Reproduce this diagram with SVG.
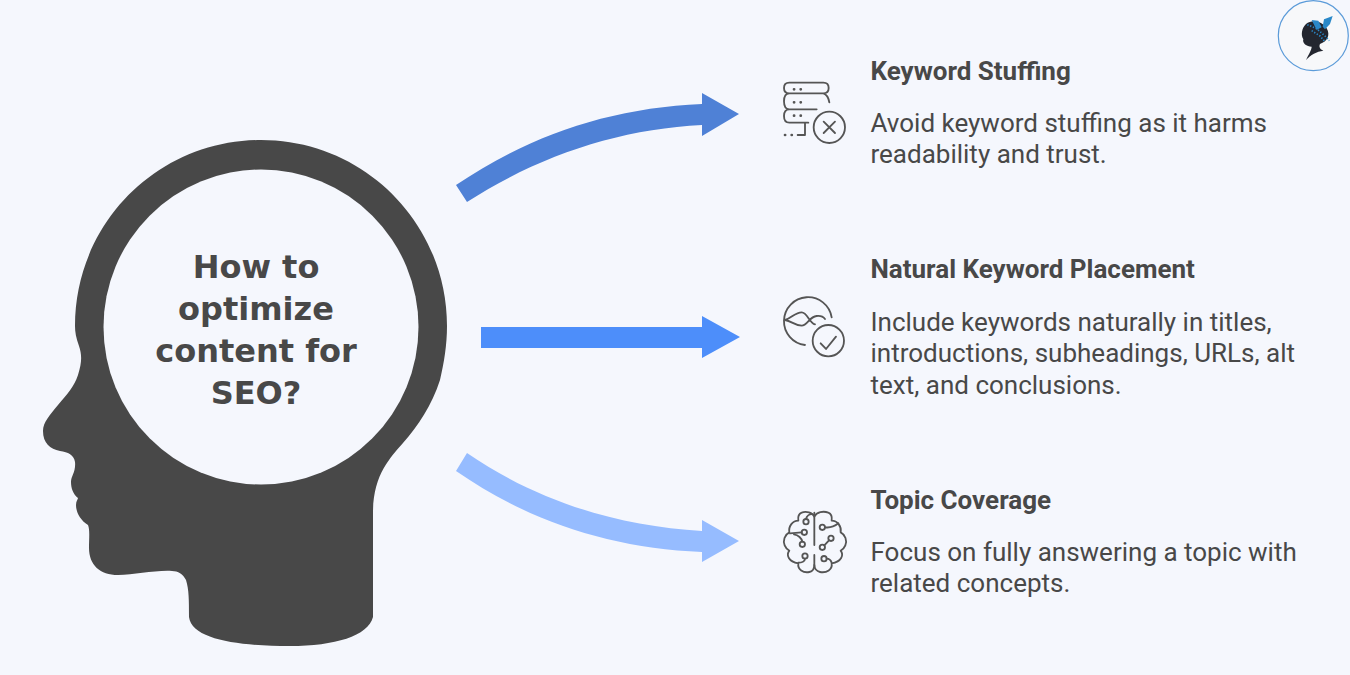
<svg xmlns="http://www.w3.org/2000/svg" width="1350" height="675" viewBox="0 0 1350 675">
<style>
.h{font:700 26px Roboto,sans-serif;fill:#484848}
.b{font:400 26px Roboto,sans-serif;fill:#484848}
.c{font:700 32px "DejaVu Sans",sans-serif;fill:#484848;text-anchor:middle}
.i{fill:none;stroke:#555;stroke-width:5.500;stroke-linecap:round;stroke-linejoin:round}
.d{fill:none;stroke:#555;stroke-width:8;stroke-linecap:round}
</style>
<rect width="1350" height="675" fill="#f5f7fd"/>
<g id="head">
<path fill="#484848" d="M78 375C82 362 82 355 79 346C76 338 75 332 75 326C75 223 158 140 261 140C364 140 447 223 447 326C447 345 444 363 440 380C432 405 418 426 403 443C390 458 373 475 373 513V617C368 636 335 646 290 646C240 646 192 640 189 617C189 600 189 590 186 580C183 574 178 571 172 571C155 570 135 575 118 575C100 575 89 565 89 548C89 538 90 530 88 525C80 520 76 512 76 505C76 501 78 499 78 498C73 494 71 488 71 482C71 476 76 472 75 462C74 455 68 452 60 451C50 449 43 443 43 431C43 422 50 415 58 405C68 393 74 387 78 375Z"/>
<circle cx="261" cy="327" r="157.500" fill="#f5f7fd"/>
<text class="c" x="256" y="278">How to</text>
<text class="c" x="256" y="320">optimize</text>
<text class="c" x="256" y="362">content for</text>
<text class="c" x="256" y="404">SEO?</text>
</g>
<g id="connectors">
<path d="M456 185C530 135 610 108 702 104V93L739 114L702 136V125C620 129 540 155 467 202Z" fill="#4f81d6"/>
<path d="M481 327H702V316L740 337L702 358V348H481Z" fill="#4d8efa"/>
<path d="M456 471L467 453C540 503 620 526 702 531V520L739 541L702 562V552C610 548 530 522 456 471Z" fill="#96bcff"/>
</g>
<g id="node-keyword-stuffing">
<g transform="translate(770 70) scale(.3333)">
<g class="i">
<path d="M58 38H160Q176 38 176 54Q176 70 160 70H58Q42 70 42 54Q42 38 58 38ZM58 70Q42 70 42 94Q42 118 58 118H140M160 70Q174 74 178 97M58 118Q42 118 42 138Q42 158 58 158H115M105 158V195H83"/>
<circle cx="178" cy="172" r="47"/>
<path d="M161 155L195 189M195 155L161 189"/>
</g>
<path class="d" d="M72 58h.5M92 58h.5M72 97h.5M92 97h.5M72 137h.5M92 137h.5M45 195h.5M65 195h.5"/>
</g>
<text class="h" x="870.500" y="80">Keyword Stuffing</text>
<text class="b" x="870.500" y="132">Avoid keyword stuffing as it harms</text>
<text class="b" x="870.500" y="163">readability and trust.</text>
</g>
<g id="node-natural-keyword-placement">
<g transform="translate(770 285) scale(.3333)" class="i">
<path d="M185 97A72 72 0 1 0 105 180"/>
<circle cx="175" cy="167" r="47"/>
<path d="M152 175L168 192L198 155"/>
<path d="M45 105C65 100 75 82 95 82C112 82 118 115 135 118M45 105C65 108 75 122 95 122C112 122 118 95 140 93C150 92 160 95 165 102"/>
</g>
<text class="h" x="870.500" y="278">Natural Keyword Placement</text>
<text class="b" x="870.500" y="331">Include keywords naturally in titles,</text>
<text class="b" x="870.500" y="362">introductions, subheadings, URLs, alt</text>
<text class="b" x="870.500" y="393.500">text, and conclusions.</text>
</g>
<g id="node-topic-coverage">
<g transform="translate(770 500) scale(.3333)" class="i">
<path d="M133 38V135M133 165V200M133 50C128 38 108 32 95 38C84 42 84 55 85 62C68 62 55 78 58 97C44 104 38 122 44 136C48 146 55 150 58 152C48 165 55 185 85 190C82 208 100 220 118 216C128 214 133 205 133 195"/>
<path d="M133 50C140 36 160 32 175 38C186 42 186 55 185 62C202 62 215 78 212 97C226 104 232 122 226 136C222 146 215 150 212 152C222 165 215 185 185 190C188 208 170 220 150 216C140 214 133 205 133 195"/>
<circle cx="108" cy="65" r="8"/><path d="M108 57C110 48 118 42 126 42"/>
<circle cx="103" cy="97" r="8"/><path d="M95 97L60 100"/>
<circle cx="97" cy="133" r="8"/><path d="M97 125C95 115 85 105 72 103"/>
<circle cx="105" cy="168" r="8"/><path d="M105 176C105 184 95 188 85 188"/>
<circle cx="157" cy="82" r="8"/><path d="M165 82C185 85 195 78 205 70"/>
<circle cx="183" cy="115" r="8"/><path d="M177 121L163 136"/>
<circle cx="157" cy="142" r="8"/>
<circle cx="162" cy="176" r="8"/><path d="M170 176C178 176 183 182 185 188"/>
</g>
<text class="h" x="870.500" y="509">Topic Coverage</text>
<text class="b" x="870.500" y="561">Focus on fully answering a topic with</text>
<text class="b" x="870.500" y="592">related concepts.</text>
</g>
<g id="logo">
<circle cx="1313.300" cy="35.700" r="35" fill="#f7f8fa" stroke="#5b9bd9" stroke-width="1.200"/>
<g transform="translate(1270 0) scale(.3333)">
<path fill="#23262f" d="M108 72C125 58 155 62 170 85C182 105 172 125 150 132C146 140 150 148 160 152C140 154 122 165 108 180C115 165 125 150 125 140C110 140 96 130 100 118C92 105 95 85 108 72Z"/>
<path fill="#2a88c8" d="M125 60L145 62L155 82L140 90ZM158 80L162 58L188 48L180 72L165 88Z"/>
<path fill="none" stroke="#2a88c8" stroke-width="5" stroke-dasharray="4 5" d="M112 74L140 86L165 108L178 122M125 92L150 108L165 125"/>
</g>
</g>
</svg>
